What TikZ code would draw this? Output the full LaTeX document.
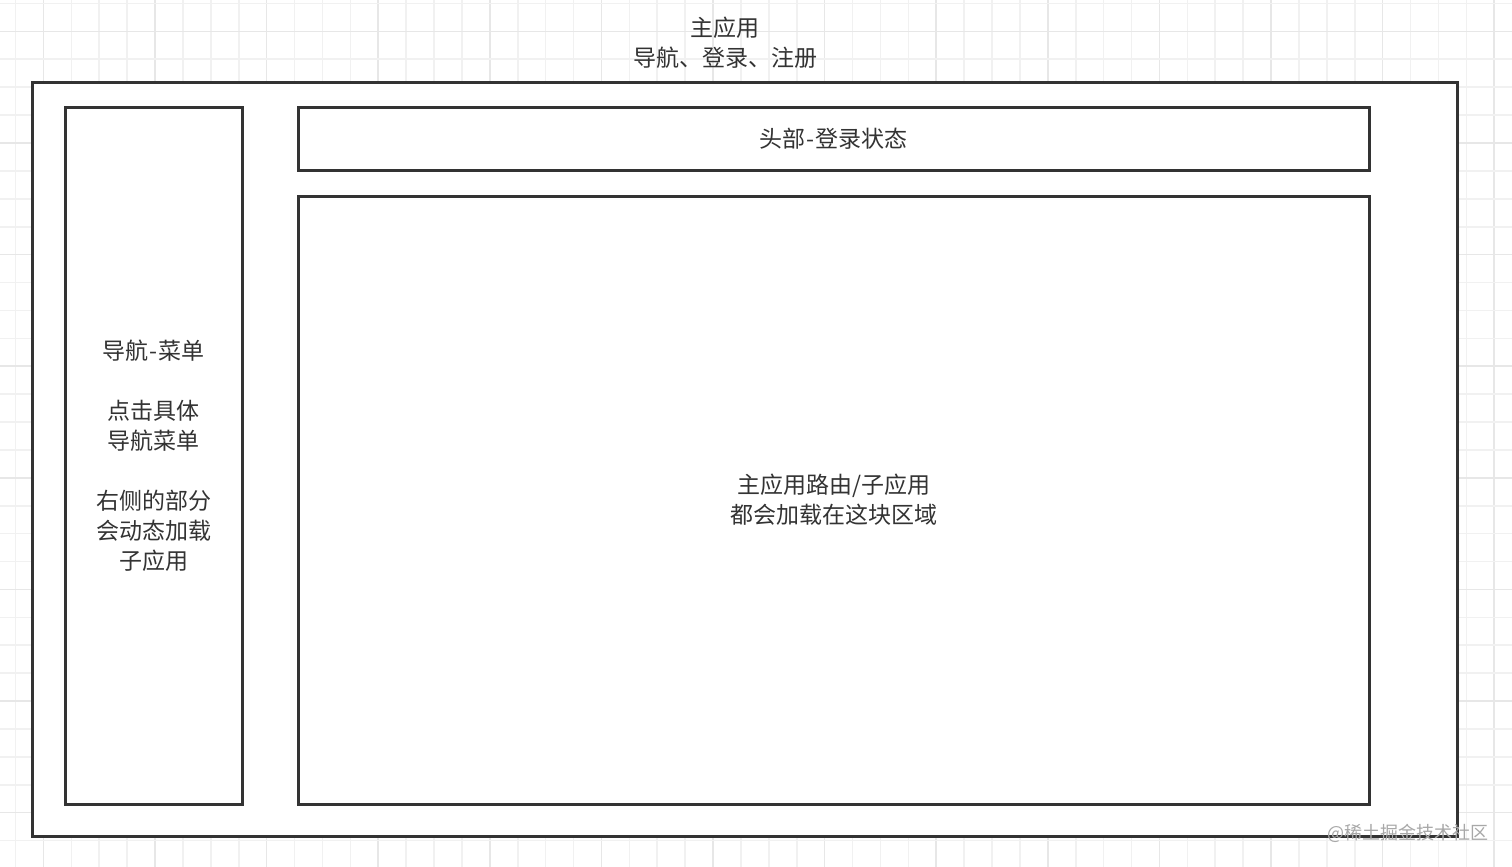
\documentclass[tikz,border=0pt]{standalone}
\usepackage{fontspec}
\newfontfamily\cjk{Noto Sans CJK SC}
\definecolor{ink}{HTML}{333333}
\definecolor{gridminor}{HTML}{F1F1F1}
\definecolor{gridmajor}{HTML}{E7E7E7}
\definecolor{wm}{HTML}{A8A8A8}
\newcommand{\dsh}{\kern1.5pt-\kern1.5pt}
\tikzset{
  frame/.style={draw=ink, line width=3pt, fill=white, inner sep=0pt, align=center,
    text=ink, font=\cjk\fontsize{23}{30}\selectfont},
  label/.style={inner sep=0pt, align=center, text=ink, font=\cjk\fontsize{23}{30}\selectfont},
  gminor/.style={draw=gridminor, line width=1.6pt},
  gmajor/.style={draw=gridmajor, line width=1.6pt}
}
\begin{document}
\begin{tikzpicture}[x=1pt,y=-1pt]
\useasboundingbox (0,0) rectangle (1512,867);
\fill[white] (0,0) rectangle (1512,867);
% grid
\foreach \i in {0,...,54}{
  \pgfmathsetmacro{\xx}{15.5+27.9*\i}
  \pgfmathtruncatemacro{\m}{mod(\i,4)}
  \ifnum\m=1 \draw[gmajor] (\xx,0) -- (\xx,867); \else \draw[gminor] (\xx,0) -- (\xx,867); \fi
}
\foreach \j in {0,...,30}{
  \pgfmathsetmacro{\yy}{3.5+27.9*\j}
  \pgfmathtruncatemacro{\m}{mod(\j,4)}
  \ifnum\m=1 \draw[gmajor] (0,\yy) -- (1512,\yy); \else \draw[gminor] (0,\yy) -- (1512,\yy); \fi
}
% boxes
\node[frame, minimum width=1425pt, minimum height=754pt] (outer) at (744.5,459) {};
\node[frame, minimum width=177pt, minimum height=697pt] (left) at (153.5,455.5)
  {导航\dsh 菜单\\[30pt]点击具体\\导航菜单\\[30pt]右侧的部分\\会动态加载\\子应用};
\node[frame, minimum width=1071pt, minimum height=63pt] (header) at (833.5,138.5) {头部\dsh 登录状态};
\node[frame, minimum width=1071pt, minimum height=608pt] (main) at (833.5,500) {主应用路由/子应用\\都会加载在这块区域};
\node[label] (title) at (725,43) {主应用\\导航、登录、注册};
\node[inner sep=0pt, text=wm, font=\cjk\fontsize{18}{20}\selectfont] (watermark) at (1408,833) {@稀土掘金技术社区};
\end{tikzpicture}
\end{document}
